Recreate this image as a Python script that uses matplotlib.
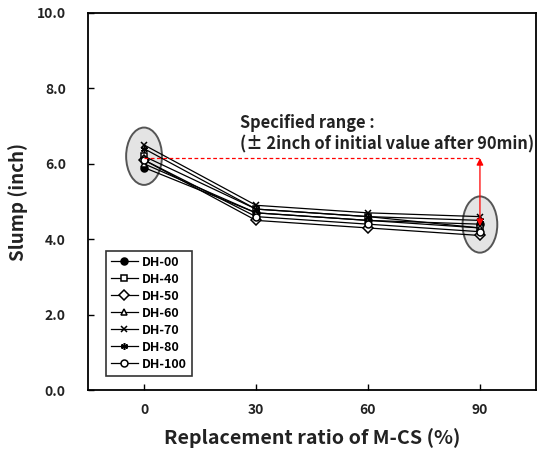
import matplotlib
matplotlib.use('Agg')
import matplotlib.pyplot as plt
from matplotlib.patches import Ellipse

plt.rcParams['font.family'] = ['Noto Sans CJK KR', 'DejaVu Sans']

# data
ratios = ['0', '30', '60', '90']
series_names = ['DH-00', 'DH-40', 'DH-50', 'DH-60', 'DH-70', 'DH-80', 'DH-100']
dh00 = [5.9, 4.7, 4.5, 4.4]
dh40 = [6.2, 4.8, 4.6, 4.3]
dh50 = [6.1, 4.5, 4.3, 4.1]
dh60 = [6.0, 4.7, 4.5, 4.3]
dh70 = [6.5, 4.9, 4.7, 4.6]
dh80 = [6.4, 4.8, 4.6, 4.5]
dh100 = [6.1, 4.6, 4.4, 4.2]
spec_level = 6.15
arrow_end = 4.35

slumps = [dh00, dh40, dh50, dh60, dh70, dh80, dh100]
markers = ['o', 's', 'D', '^', 'x', (6, 2, 0), 'o']
fills = ['black', 'white', 'white', 'white', 'black', 'black', 'white']

fig = plt.figure(figsize=(5.37, 4.58), dpi=100)
ax = fig.add_axes([0.164, 0.148, 0.834, 0.824])

xs = range(len(ratios))

# grey ellipses behind the first and last groups
ax.add_patch(Ellipse((0, 6.2), 0.32, 1.52, facecolor='#e4e4e4',
                     edgecolor='#555555', lw=1.4, zorder=1))
ax.add_patch(Ellipse((3, 4.39), 0.31, 1.49, facecolor='#e4e4e4',
                     edgecolor='#555555', lw=1.4, zorder=1))

for name, vals, mk, fc in zip(series_names, slumps, markers, fills):
    ax.plot(xs, vals, color='black', lw=0.9, marker=mk, markersize=5,
            markerfacecolor=fc, markeredgecolor='black', markeredgewidth=1.1,
            label=name, zorder=3)

# specified range
ax.plot([0, 3], [spec_level, spec_level], color='red', lw=0.9,
        ls=(0, (3, 2)), zorder=4)
ax.annotate('', xy=(3, arrow_end), xytext=(3, spec_level),
            arrowprops=dict(arrowstyle='<|-|>', color='red', lw=0.9,
                            mutation_scale=10, shrinkA=0, shrinkB=0),
            zorder=5)
ax.text(0.86, 6.28, 'Specified range :\n(\u00b1 2inch of initial value after 90min)',
        fontsize=11.8, fontweight='bold', ha='left', va='bottom',
        linespacing=1.2, color='#222222')

ax.set_xlim(-0.5, 3.5)
ax.set_ylim(0, 10)
ax.set_xticks(list(xs))
ax.set_xticklabels(ratios)
ax.set_yticks([0, 2, 4, 6, 8, 10])
ax.set_yticklabels(['%.1f' % v for v in [0, 2, 4, 6, 8, 10]])
ax.tick_params(direction='in', length=4, width=1, labelsize=10)
ax.tick_params(axis='x', pad=9)
ax.tick_params(axis='y', pad=16)
for lab in ax.get_xticklabels() + ax.get_yticklabels():
    lab.set_fontweight('bold')
    lab.set_color('#222222')
for s in ax.spines.values():
    s.set_linewidth(1.3)

ax.set_xlabel('Replacement ratio of M-CS (%)', fontsize=14.2,
              fontweight='bold', labelpad=8, color='#222222')
ax.set_ylabel('Slump (inch)', fontsize=13.5, fontweight='bold',
              labelpad=6, color='#222222')

leg = ax.legend(loc='lower left', bbox_to_anchor=(0.025, 0.022),
                frameon=True, fancybox=False, edgecolor='black',
                handlelength=2.2, handletextpad=0.3, borderpad=0.4,
                labelspacing=0.32, prop={'weight': 'bold', 'size': 9})
leg.get_frame().set_linewidth(1.2)

fig.savefig('out.png', dpi=100)
